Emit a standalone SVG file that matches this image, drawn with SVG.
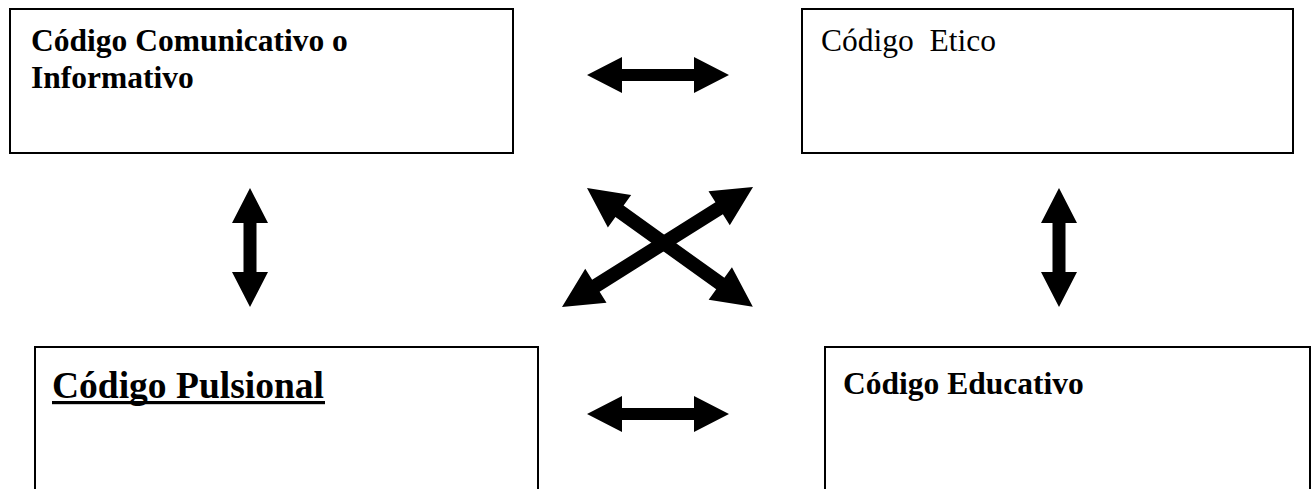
<svg xmlns="http://www.w3.org/2000/svg" width="1312" height="489" viewBox="0 0 1312 489">
<style>
.box{fill:none;stroke:#000;stroke-width:2}
.t{font-family:"Liberation Serif","Times New Roman",serif;font-size:31.5px;fill:#000}
.b{font-weight:bold}
.arr{fill:#000}
</style>
<rect width="1312" height="489" fill="#fff"/>
<g id="comunicativo">
<rect class="box" x="10" y="9" width="503" height="144"/>
<text class="t b" x="31" y="51">Código Comunicativo o</text>
<text class="t b" x="31" y="88">Informativo</text>
</g>
<g id="etico">
<rect class="box" x="802" y="9" width="491" height="144"/>
<text class="t" x="821" y="51" xml:space="preserve">Código  Etico</text>
</g>
<g id="pulsional">
<path class="box" d="M35,489 V347 H538 V489"/>
<text class="t b" x="52" y="398" style="font-size:37.5px">Código Pulsional</text>
<rect x="52" y="401" width="273" height="3.2" fill="#000"/>
</g>
<g id="educativo">
<path class="box" d="M825,489 V347 H1310 V489"/>
<text class="t b" x="843" y="394">Código Educativo</text>
</g>
<g id="connectors">
<defs>
<polygon id="h142" points="0,0 35,-18 35,-6 107,-6 107,-18 142,0 107,18 107,6 35,6 35,18"/>
<polygon id="v119" points="0,0 35,-18 35,-6.5 84,-6.5 84,-18 119,0 84,18 84,6.5 35,6.5 35,18"/>
</defs>
<use href="#h142" class="arr" x="587" y="75"/>
<use href="#h142" class="arr" x="587" y="414"/>
<use href="#v119" class="arr" transform="translate(250,188) rotate(90)"/>
<use href="#v119" class="arr" transform="translate(1059,188) rotate(90)"/>
<polygon class="arr" transform="translate(587,188) rotate(35.63)" points="0,0 40,-20 40,-7 164,-7 164,-20 204,0 164,20 164,7 40,7 40,20"/>
<polygon class="arr" transform="translate(562,307) rotate(-32.14)" points="0,0 40,-20 40,-7 185.6,-7 185.6,-20 225.6,0 185.6,20 185.6,7 40,7 40,20"/>
</g>
</svg>
